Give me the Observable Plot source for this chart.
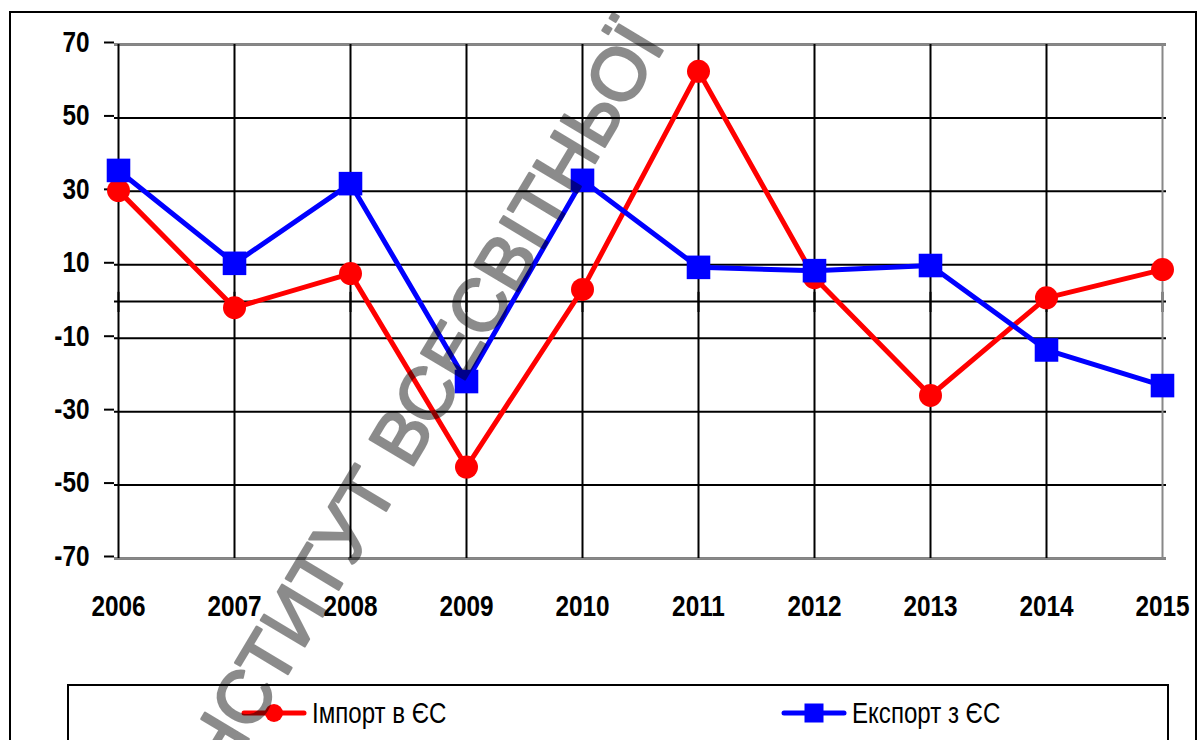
<!DOCTYPE html>
<html><head><meta charset="utf-8">
<script src="https://cdn.jsdelivr.net/npm/d3@7"></script>
<script src="https://cdn.jsdelivr.net/npm/@observablehq/plot@0.6"></script>
<style>
body{margin:0;background:#fff;}
#wrap{position:relative;width:1198px;height:740px;overflow:hidden;background:#fff;}
#frame{position:absolute;left:9px;top:11px;width:1188px;height:800px;border:2px solid #000;box-sizing:border-box;}
#chart{position:absolute;left:0;top:0;}
#legend{position:absolute;left:67px;top:684px;width:1102px;height:58px;border:2px solid #000;box-sizing:border-box;display:flex;align-items:center;background:#fff;}
#legend .item{flex:1;display:flex;justify-content:center;align-items:center;}
#legend .lab{font-family:"Liberation Sans Narrow","Liberation Sans",Arial,sans-serif;font-size:29px;color:#000;margin-left:5px;line-height:1;display:inline-block;transform:scaleX(0.83);transform-origin:left center;margin-right:-27px;white-space:nowrap;}
#wm{position:absolute;left:0;top:0;pointer-events:none;}
</style></head>
<body><div id="wrap"><div id="frame"></div><div id="chart"></div><div id="legend"></div><svg id="wm" width="1198" height="740"></svg></div>
<script>
const years = [2006, 2007, 2008, 2009, 2010, 2011, 2012, 2013, 2014, 2015];
const importEU = [30.2, -1.7, 7.6, -45.1, 3.3, 62.7, 6.5, -25.6, 1.0, 8.7];
const exportEU = [35.7, 10.4, 32.1, -21.8, 33.0, 9.3, 8.4, 9.8, -13.2, -22.9];
const yTicks = [-70, -50, -30, -10, 10, 30, 50, 70];
const seriesNames = ["Імпорт в ЄС", "Експорт з ЄС"];
const seriesColors = ["#ff0000", "#0000ff"];
const watermarkText = "ІНСТИТУТ ВСЕСВІТНЬОЇ";

const fontStack = '"Liberation Sans",Arial,sans-serif';
const imp = years.map((y, i) => ({year: y, value: importEU[i]}));
const exp = years.map((y, i) => ({year: y, value: exportEU[i]}));

const chart = Plot.plot({
  width: 1198, height: 680,
  marginLeft: 114, marginRight: 32, marginTop: 44, marginBottom: 122,
  style: {fontFamily: fontStack, fontSize: "29px", fontWeight: "bold", background: "transparent", overflow: "visible", color: "#000"},
  x: {type: "point", domain: years, padding: 0, label: null},
  y: {domain: [-70, 70], label: null},
  marks: [
    Plot.ruleX(years, {x: d => d, y1: 2.5, y2: -3, stroke: "#000", strokeWidth: 2}),
    Plot.gridY(yTicks, {stroke: "#000", strokeOpacity: 1, strokeWidth: 2}),
    Plot.ruleY([0], {stroke: "#000", strokeWidth: 2}),
    Plot.axisY(yTicks, {tickSize: 10, tickPadding: 15, stroke: "#000", strokeWidth: 2, fontSize: 29, fontWeight: "bold", dy: -2, fill: "#000", label: null, tickFormat: d => String(d)}),
    Plot.axisX(years, {tickSize: 0, tickPadding: 37, tickFormat: d => String(d), fontSize: 29, fontWeight: "bold", fill: "#000", label: null}),
    Plot.ruleY([70, -70], {stroke: "#888", strokeWidth: 2}),
    Plot.gridX(years.slice(0, -1), {stroke: "#000", strokeOpacity: 1, strokeWidth: 2}),
    Plot.ruleX([years[years.length - 1]], {stroke: "#888", strokeWidth: 2}),
    Plot.line(imp, {x: "year", y: "value", stroke: seriesColors[0], strokeWidth: 5}),
    Plot.dot(imp, {x: "year", y: "value", r: 11.5, fill: seriesColors[0]}),
    Plot.line(exp, {x: "year", y: "value", stroke: seriesColors[1], strokeWidth: 5}),
    Plot.dot(exp, {x: "year", y: "value", symbol: "square", r: 13.3, fill: seriesColors[1]})
  ]
});
// narrow the tick labels (Arial Narrow look) around each text's own anchor
d3.select(chart).selectAll("text").each(function() {
  const t = this.getAttribute("transform") || "";
  this.setAttribute("transform", t + " scale(0.84,1)");
});
document.getElementById("chart").appendChild(chart);

// legend
const legend = d3.select("#legend");
seriesNames.forEach((name, i) => {
  const item = legend.append("div").attr("class", "item");
  const svg = item.append("svg").attr("width", 66).attr("height", 24);
  svg.append("line").attr("x1", 3).attr("x2", 63).attr("y1", 12).attr("y2", 12)
    .attr("stroke", seriesColors[i]).attr("stroke-width", 5).attr("stroke-linecap", "round");
  if (i === 0) svg.append("circle").attr("cx", 33).attr("cy", 12).attr("r", 9).attr("fill", seriesColors[i]);
  else svg.append("rect").attr("x", 23.5).attr("y", 2.5).attr("width", 19).attr("height", 19).attr("fill", seriesColors[i]);
  item.append("span").attr("class", "lab").text(name);
});

// watermark
d3.select("#wm").append("g").attr("opacity", 0.45).append("text")
  .attr("transform", "translate(418,408) rotate(-59)")
  .attr("text-anchor", "middle").attr("dominant-baseline", "central")
  .attr("font-family", '"Liberation Sans",Arial,sans-serif').attr("font-size", 74)
  .attr("fill", "#000").attr("stroke", "#000").attr("stroke-width", 2.5).attr("stroke-linejoin", "round")
  .text(watermarkText);
</script></body></html>
